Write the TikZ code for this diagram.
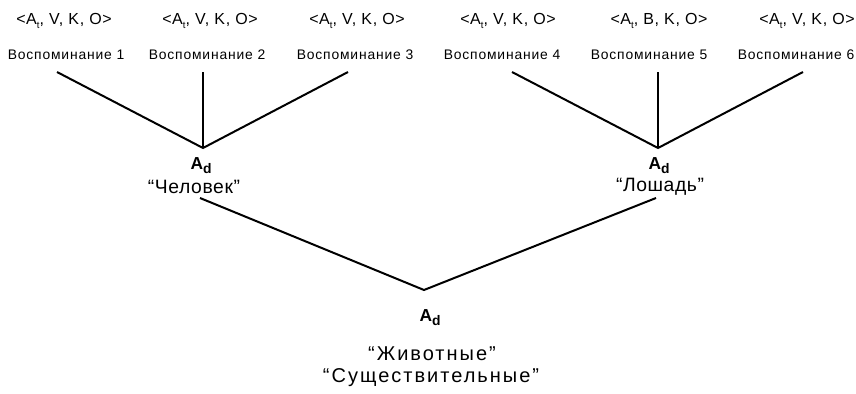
\documentclass[tikz,border=0pt]{standalone}
\usepackage{fontspec}
\setmainfont{Liberation Sans}
\usepackage{tikz}

\newcommand{\lowidx}[2][0.6]{\raisebox{-0.45ex}{\scalebox{#1}{#2}}}
\newcommand{\tuple}[1]{<A\lowidx{t}, #1, K, O>}
\newcommand{\adnode}{\textbf{A\lowidx[0.8]{d}}}

\begin{document}
\begin{tikzpicture}[x=0.75pt, y=-0.75pt]
      \useasboundingbox (0,0) rectangle (856,393);
      \tikzset{tup/.style={font=\fontsize{12}{14}\selectfont\addfontfeature{LetterSpace=4}},
               mem/.style={font=\fontsize{10.4}{12}\selectfont\addfontfeature{LetterSpace=6}},
               word/.style={inner sep=1pt, font=\fontsize{14.5}{16}\selectfont\addfontfeature{LetterSpace=3}},
               bigword/.style={inner sep=1pt, font=\fontsize{15}{17}\selectfont\addfontfeature{LetterSpace=10}},
               ad/.style={inner sep=0pt, font=\fontsize{13}{15}\selectfont}}

      % memories, left group
      \node[tup](t1) at (64, 21){\tuple{V}};
      \node[tup](t2) at (210, 21){\tuple{V}};
      \node[tup](t3) at (357, 21){\tuple{V}};
      \node[mem](m1) at (66, 55){Воспоминание 1};
      \node[mem](m2) at (207, 55){Воспоминание 2};
      \node[mem](m3) at (355, 55){Воспоминание 3};

      % memories, right group
      \node[tup](t4) at (508, 21){\tuple{V}};
      \node[tup](t5) at (659, 21){\tuple{B}};
      \node[tup](t6) at (807, 21){\tuple{V}};
      \node[mem](m4) at (502, 55){Воспоминание 4};
      \node[mem](m5) at (649, 55){Воспоминание 5};
      \node[mem](m6) at (796, 55){Воспоминание 6};

      \coordinate (e1) at (57, 72);
      \coordinate (e2) at (203, 72);
      \coordinate (e3) at (348, 72);
      \coordinate (e4) at (512, 72);
      \coordinate (e5) at (658, 72);
      \coordinate (e6) at (803, 72);

      \coordinate (hum) at (203, 148);
      \coordinate (hor) at (658, 148);

      \draw [line width=1.5pt] (e1) -- (hum) -- (e3);
      \draw [line width=1.5pt] (e2) -- (hum);
      \draw [line width=1.5pt] (e4) -- (hor) -- (e6);
      \draw [line width=1.5pt] (e5) -- (hor);

      \node[ad](adh) at (201, 166){\adnode};
      \node[word](human) at (194, 187){“Человек”};
      \node[ad](adr) at (659, 166){\adnode};
      \node[word](horse) at (660, 187){“Лошадь”};

      \coordinate (fromh) at (200, 198);
      \coordinate (fromr) at (656, 198);
      \coordinate (ani) at (424, 290);
      \draw [line width=1.5pt] (fromh) -- (ani) -- (fromr);

      \node[ad](ada) at (430, 318){\adnode};
      \node[bigword](animal) at (432, 354){“Животные”};
      \node[bigword](noun) at (431, 378){“Существительные”};
\end{tikzpicture}
\end{document}
